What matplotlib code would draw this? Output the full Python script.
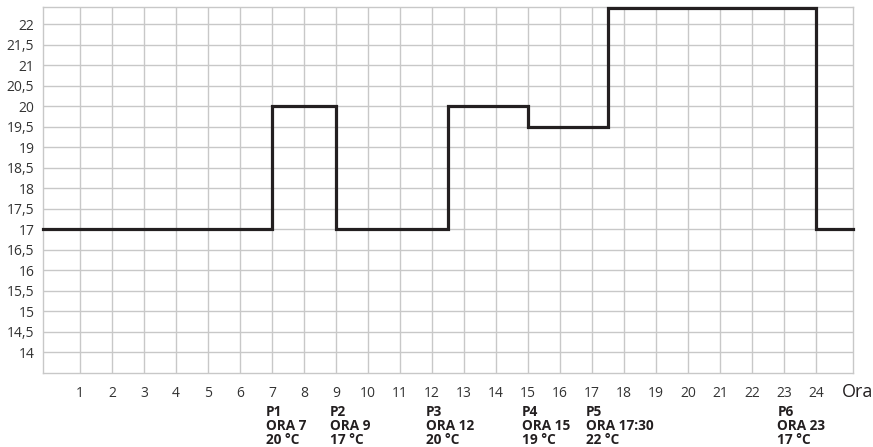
import matplotlib
matplotlib.use("Agg")
import matplotlib.pyplot as plt

plt.rcParams['font.family'] = ['Open Sans', 'DejaVu Sans']

# ---- data ----
hours = list(range(1, 25))
step_hours = [7, 9, 12.5, 15, 17.5, 24]
step_temps = [20, 17, 20, 19.5, 22.4, 17]
start_temp = 17
y_ticks = [14 + 0.5 * i for i in range(17)]
prog_names = ["P1", "P2", "P3", "P4", "P5", "P6"]
prog_hours = [7, 9, 12, 15, 17, 23]
prog_times = ["ORA 7", "ORA 9", "ORA 12", "ORA 15", "ORA 17:30", "ORA 23"]
prog_temps = ["20 °C", "17 °C", "20 °C", "19 °C", "22 °C", "17 °C"]
x_label = "Ora"

XMIN, XMAX = -0.17, 25.17
YMIN, YMAX = 13.5, 22.41

fig = plt.figure(figsize=(8.73, 4.47), dpi=100)
ax = fig.add_axes([42.7 / 873, 1 - 372.7 / 447, (853.3 - 42.7) / 873, (372.7 - 7.3) / 447])

grid_c = "#c8c8c8"
for h in hours:
    ax.axvline(h, color=grid_c, lw=1.0, zorder=1)
for t in y_ticks:
    ax.axhline(t, color=grid_c, lw=1.0, zorder=1)

xs = [XMIN] + step_hours + [XMAX]
ys = [start_temp] + step_temps + [step_temps[-1]]
ax.step(xs, ys, where='post', color="#231f20", lw=2.3, zorder=3, clip_on=False,
        solid_joinstyle='miter')

ax.set_xlim(XMIN, XMAX)
ax.set_ylim(YMIN, YMAX)
ax.set_xticks(hours)
ax.set_xticklabels([str(h) for h in hours], fontsize=10, color="#333333")
ax.set_yticks(y_ticks)
ax.set_yticklabels([("%g" % t).replace(".", ",") for t in y_ticks], fontsize=10, color="#333333")
ax.tick_params(axis='both', length=0)
ax.tick_params(axis='x', pad=9.5)
ax.tick_params(axis='y', pad=6)
for s in ax.spines.values():
    s.set_color(grid_c)
    s.set_linewidth(1.0)

for name, h, tm, tp in zip(prog_names, prog_hours, prog_times, prog_temps):
    ax.annotate(f"{name}\n{tm}\n{tp}", xy=(h - 0.2, 0), xycoords=('data', 'axes fraction'),
                xytext=(0, -23), textcoords='offset points', ha='left', va='top',
                fontsize=9.8, fontweight='bold', color="#231f20", linespacing=1.03)

fig.text(873, 447 - 392, x_label, transform=None, ha='right', va='center',
         fontsize=13, color="#231f20")

fig.savefig("out.png", dpi=100)
